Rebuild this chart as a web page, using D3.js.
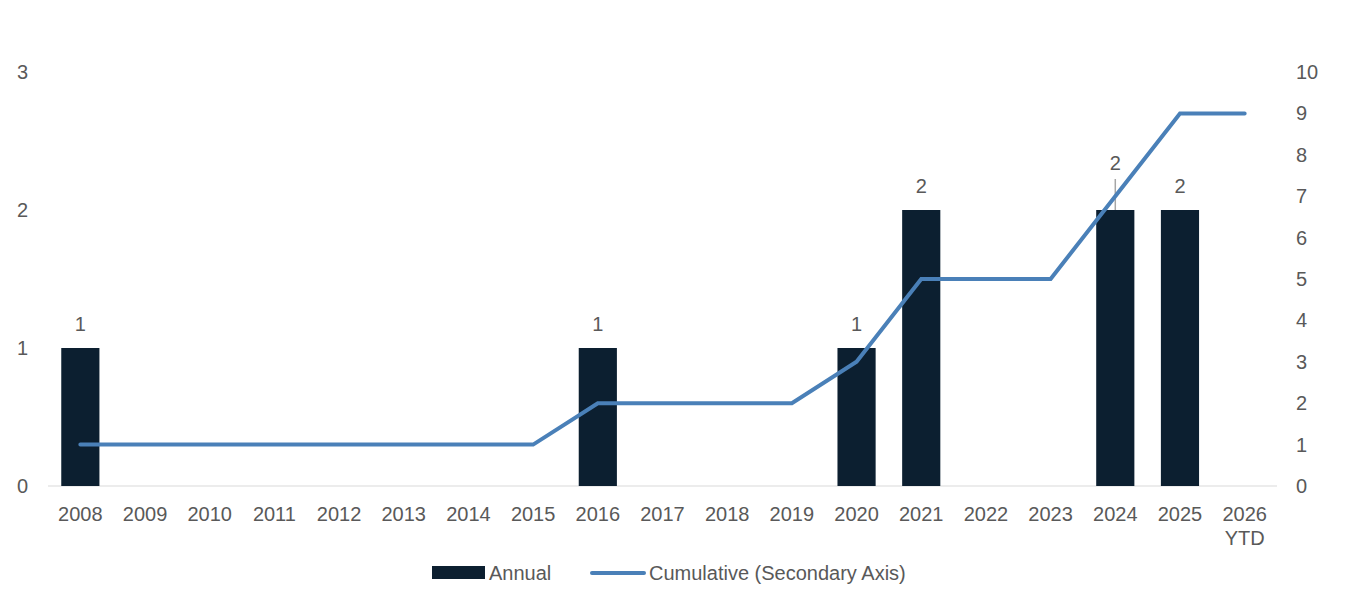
<!DOCTYPE html>
<html>
<head>
<meta charset="utf-8">
<script src="https://cdn.jsdelivr.net/npm/d3@7"></script>
<style>
  body { margin: 0; background: #fff; }
  text { font-family: "Liberation Sans", Arial, sans-serif; fill: #595959; }
</style>
</head>
<body>
<div class="curr-graff"></div>
<script>
// data
const years = ["2008", "2009", "2010", "2011", "2012", "2013", "2014", "2015", "2016", "2017",
               "2018", "2019", "2020", "2021", "2022", "2023", "2024", "2025", "2026\nYTD"];
const annual = [1, 0, 0, 0, 0, 0, 0, 0, 1, 0, 0, 0, 1, 2, 0, 0, 2, 2, 0];
const cumulative = [1, 1, 1, 1, 1, 1, 1, 1, 2, 2, 2, 2, 3, 5, 5, 5, 7, 9, 9];
const leftTicks = [0, 1, 2, 3];
const rightTicks = [0, 1, 2, 3, 4, 5, 6, 7, 8, 9, 10];

const width = 1356, height = 598;
const plotLeft = 48, plotRight = 1277, plotTop = 72, plotBottom = 486;
const fs = "20px";

const svg = d3.select(".curr-graff")
    .append("svg")
    .attr("width", width)
    .attr("height", height);

const xScale = d3.scaleBand()
    .domain(years)
    .range([plotLeft, plotRight])
    .paddingInner(0.41)
    .paddingOuter(0.205);

const yLeft = d3.scaleLinear().domain([0, 3]).range([plotBottom, plotTop]);
const yRight = d3.scaleLinear().domain([0, 10]).range([plotBottom, plotTop]);

// baseline
svg.append("line")
    .attr("x1", plotLeft).attr("x2", plotRight)
    .attr("y1", plotBottom).attr("y2", plotBottom)
    .attr("stroke", "#d9d9d9")
    .attr("stroke-width", 1);

// left axis labels
svg.append("g")
    .selectAll("text")
    .data(leftTicks)
    .enter()
    .append("text")
    .attr("x", 28)
    .attr("y", d => yLeft(d))
    .attr("dy", "0.35em")
    .attr("text-anchor", "end")
    .style("font-size", fs)
    .text(d => d);

// right axis labels
svg.append("g")
    .selectAll("text")
    .data(rightTicks)
    .enter()
    .append("text")
    .attr("x", 1296)
    .attr("y", d => yRight(d))
    .attr("dy", "0.35em")
    .attr("text-anchor", "start")
    .style("font-size", fs)
    .text(d => d);

// x labels
const xl = svg.append("g")
    .selectAll("text")
    .data(years)
    .enter()
    .append("text")
    .attr("x", d => xScale(d) + xScale.bandwidth() / 2)
    .attr("y", 514)
    .attr("text-anchor", "middle")
    .style("font-size", fs);
xl.each(function(d) {
    const parts = d.split("\n");
    const t = d3.select(this);
    parts.forEach((p, i) => {
        t.append("tspan")
            .attr("x", xScale(d) + xScale.bandwidth() / 2)
            .attr("dy", i === 0 ? "0.35em" : "1.2em")
            .text(p);
    });
});

// bars
const barData = annual.map((v, i) => ({ year: years[i], v: v })).filter(d => d.v > 0);

svg.append("g")
    .selectAll("rect")
    .data(barData)
    .enter()
    .append("rect")
    .attr("x", d => xScale(d.year))
    .attr("y", d => yLeft(d.v))
    .attr("width", xScale.bandwidth())
    .attr("height", d => plotBottom - yLeft(d.v))
    .attr("fill", "#0c1f30");

// bar labels (2024 label is pulled up with a leader line)
barData.forEach(d => {
    const cx = xScale(d.year) + xScale.bandwidth() / 2;
    let ly = yLeft(d.v) - 24;
    if (d.year === "2024") {
        ly = yLeft(d.v) - 47;
        svg.append("line")
            .attr("x1", cx).attr("x2", cx)
            .attr("y1", ly + 16).attr("y2", yLeft(d.v))
            .attr("stroke", "#a6a6a6")
            .attr("stroke-width", 1.5);
    }
    svg.append("text")
        .attr("x", cx)
        .attr("y", ly)
        .attr("dy", "0.35em")
        .attr("text-anchor", "middle")
        .style("font-size", fs)
        .text(d.v);
});

// cumulative line
svg.append("path")
    .datum(cumulative)
    .attr("fill", "none")
    .attr("stroke", "#4a80b8")
    .attr("stroke-width", 4)
    .attr("stroke-linecap", "round")
    .attr("stroke-linejoin", "miter")
    .attr("d", d3.line()
        .x((d, i) => xScale(years[i]) + xScale.bandwidth() / 2)
        .y(d => yRight(d)));

// legend
const lg = svg.append("g");
lg.append("rect")
    .attr("x", 432).attr("y", 566)
    .attr("width", 53).attr("height", 13)
    .attr("fill", "#0c1f30");
lg.append("text")
    .attr("x", 489).attr("y", 573)
    .attr("dy", "0.35em")
    .style("font-size", fs)
    .text("Annual");
lg.append("line")
    .attr("x1", 592).attr("x2", 644)
    .attr("y1", 573).attr("y2", 573)
    .attr("stroke", "#4a80b8")
    .attr("stroke-width", 4)
    .attr("stroke-linecap", "round");
lg.append("text")
    .attr("x", 649).attr("y", 573)
    .attr("dy", "0.35em")
    .style("font-size", fs)
    .text("Cumulative (Secondary Axis)");
</script>
</body>
</html>
